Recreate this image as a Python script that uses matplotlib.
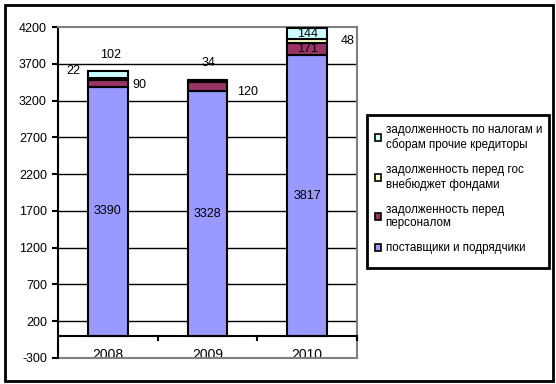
import matplotlib
matplotlib.use("Agg")
import matplotlib.pyplot as plt
import numpy as np
from matplotlib.patches import Rectangle, Patch

plt.rcParams['font.family'] = ['Liberation Sans', 'DejaVu Sans']

years = ['2008', '2009', '2010']
suppliers = [3390, 3328, 3817]
staff = [90, 120, 171]
funds = [22, 34, 48]
taxes = [102, 0, 144]

series_names = [
    'поставщики и подрядчики',
    'задолженность перед\nперсоналом',
    'задолженность перед гос\nвнебюджет фондами',
    'задолженность по налогам и\nсборам прочие кредиторы',
]
colors = ['#9999FF', '#993366', '#FFFFCC', '#CCFFFF']
yticks = list(range(-300, 4201, 500))

# label offsets in pixels from segment centre (series index, bar index) -> (dx, dy)
label_offsets = {
    (3, 0): (3, 20), (2, 0): (-35, 8), (1, 0): (32, -2),
    (2, 1): (1, 18), (1, 1): (40, -5),
    (2, 2): (40, 0),
}

W, H = 556, 384
fig = plt.figure(figsize=(W / 100, H / 100), dpi=100)
ax = fig.add_axes([58 / W, 26 / H, 299 / W, 331 / H])

x = np.arange(len(years))
data = [suppliers, staff, funds, taxes]
bottom = np.zeros(len(years))
for s, (vals, c) in enumerate(zip(data, colors)):
    vals = np.array(vals, dtype=float)
    ax.bar(x, vals, 0.4, bottom=bottom, color=c, edgecolor='black',
           linewidth=1.5, zorder=3)
    for i, v in enumerate(vals):
        if v == 0:
            continue
        dx, dy = label_offsets.get((s, i), (0, 0))
        ax.annotate(str(int(v)), (x[i], bottom[i] + v / 2),
                    xytext=(dx * 0.72, dy * 0.72), textcoords='offset points',
                    ha='center', va='center', fontsize=9, zorder=5)
    bottom += vals

ax.set_xlim(-0.5, 2.5)
ax.set_ylim(-300, 4200)
ax.set_yticks(yticks)
ax.set_yticklabels([str(t) for t in yticks], fontsize=9)
for y in yticks[1:-1]:
    ax.axhline(y, color='black', lw=1.0, zorder=1)
ax.axhline(0, color='black', lw=1.5, zorder=4)

ax.set_xticks(x)
ax.set_xticklabels(years, fontsize=9)
ax.tick_params(axis='x', length=0, pad=9)
for xm in [0.5, 1.5, 2.5]:
    ax.plot([xm, xm], [0, -60], color='black', lw=1.5, zorder=4, clip_on=False)
ax.spines['bottom'].set_position(('data', 0))
ax.spines['bottom'].set_visible(False)
ax.tick_params(axis='y', length=4, width=1.5, direction='out', pad=4)
ax.spines['left'].set_linewidth(1.5)
for sp in ['top', 'right']:
    ax.spines[sp].set_color('#808080')
    ax.spines[sp].set_linewidth(1.5)
ax.plot([0, 1], [0, 0], transform=ax.transAxes, color='#808080', lw=1.5,
        clip_on=False, zorder=2)

# legend: frame drawn separately so the box matches the original padding
fig.patches.append(Rectangle((367 / W, 1 - 268 / H), 182 / W, 153 / H,
                             transform=fig.transFigure, fill=False,
                             edgecolor='black', linewidth=2))
handles = [Patch(facecolor=c, edgecolor='black', linewidth=1.2) for c in colors]
fig.legend(handles[::-1], series_names[::-1], loc='upper left',
           bbox_to_anchor=(375 / W, 1 - 124 / H), fontsize=8.4, frameon=False,
           handlelength=0.55, handleheight=0.55, handletextpad=0.35,
           labelspacing=1.1, borderpad=0, borderaxespad=0)

fig.patches.append(Rectangle((5 / W, 3 / H), 548 / W, 376 / H,
                             transform=fig.transFigure, fill=False,
                             edgecolor='black', linewidth=2))

fig.savefig('out.png', dpi=100)
